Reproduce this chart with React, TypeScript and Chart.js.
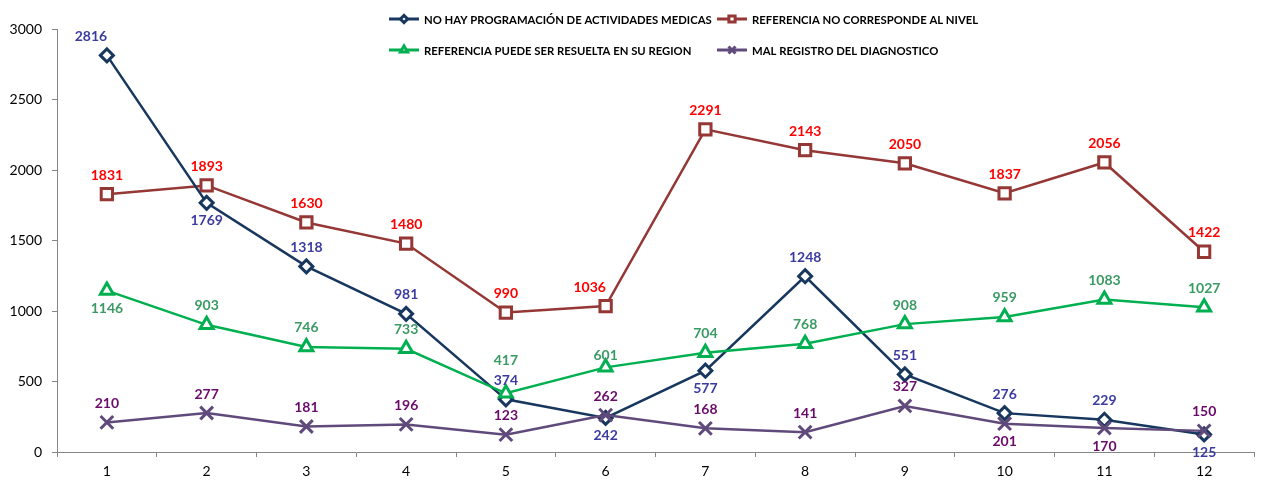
import React, { useEffect, useRef } from "react";
import { Chart, registerables } from "chart.js";
import { drawPoint } from "chart.js/helpers";
Chart.register(...registerables);

const categories = ["1", "2", "3", "4", "5", "6", "7", "8", "9", "10", "11", "12"];
const noProgramacion = [2816, 1769, 1318, 981, 374, 242, 577, 1248, 551, 276, 229, 125];
const noCorresponde = [1831, 1893, 1630, 1480, 990, 1036, 2291, 2143, 2050, 1837, 2056, 1422];
const resueltaRegion = [1146, 903, 746, 733, 417, 601, 704, 768, 908, 959, 1083, 1027];
const malRegistro = [210, 277, 181, 196, 123, 262, 168, 141, 327, 201, 170, 150];
const seriesNames = [
  "NO HAY PROGRAMACIÓN DE ACTIVIDADES MEDICAS",
  "REFERENCIA NO CORRESPONDE AL NIVEL",
  "REFERENCIA PUEDE SER RESUELTA EN SU REGION",
  "MAL REGISTRO DEL DIAGNOSTICO",
];
const yMin = 0;
const yMax = 3000;
const yStep = 500;

// label placement: a = above, b = below, al = above shifted left, aa = far above, an = near above
const posProgramacion = ["al", "b", "a", "a", "a", "b", "b", "a", "a", "a", "a", "b"];
const posCorresponde = ["a", "a", "a", "a", "a", "al", "a", "a", "a", "a", "a", "a"];
const posResuelta = ["b", "a", "a", "a", "aa", "an", "a", "a", "a", "a", "a", "a"];
const posRegistro = ["a", "a", "a", "a", "a", "a", "a", "a", "a", "b", "b", "a"];

const lineColors = ["#17375E", "#953735", "#00B050", "#604A7B"];
const labelColors = ["#3B3BA0", "#FF0000", "#3A9A64", "#6A0A6A"];
const pointStyles = ["rectRot", "rect", "triangle", "crossRot"];
const pointRadii = [6.5, 8, 7.5, 9];
const drawOrder = [3, 4, 2, 1];
const positions = [posProgramacion, posCorresponde, posResuelta, posRegistro];

const FONT = "Lato, 'DejaVu Sans', sans-serif";

const labelPlugin = {
  id: "valueLabels",
  afterDatasetsDraw(chart: any) {
    const ctx = chart.ctx;
    ctx.save();
    ctx.font = `bold 14px ${FONT}`;
    ctx.textAlign = "center";
    ctx.textBaseline = "middle";
    chart.data.datasets.forEach((ds: any, di: number) => {
      const meta = chart.getDatasetMeta(di);
      meta.data.forEach((pt: any, i: number) => {
        const pos = positions[di][i];
        let dx = 0;
        let dy = -19;
        if (pos === "b") dy = 18;
        if (pos === "al") dx = -16;
        if (pos === "aa") dy = -33;
        if (pos === "an") dy = -12;
        ctx.fillStyle = labelColors[di];
        ctx.fillText(String(ds.data[i]), pt.x + dx, pt.y + dy);
      });
    });
    ctx.restore();
  },
};

const legendPlugin = {
  id: "customLegend",
  afterDraw(chart: any) {
    const ctx = chart.ctx;
    ctx.save();
    const cols = [389, 717];
    const rows = [19, 50];
    chart.data.datasets.forEach((ds: any, di: number) => {
      const x = cols[di % 2];
      const y = rows[Math.floor(di / 2)];
      ctx.strokeStyle = lineColors[di];
      ctx.lineWidth = 3;
      ctx.beginPath();
      ctx.moveTo(x, y);
      ctx.lineTo(x + 30, y);
      ctx.stroke();
      ctx.fillStyle = "#FFFFFF";
      drawPoint(ctx, {
        pointStyle: pointStyles[di],
        radius: pointRadii[di] * 0.55,
        borderWidth: 2,
        rotation: 0,
      } as any, x + 15, y);
      ctx.fillStyle = "#000000";
      ctx.font = `bold 11.3px ${FONT}`;
      ctx.textAlign = "left";
      ctx.textBaseline = "middle";
      ctx.fillText(seriesNames[di], x + 35, y + 1);
    });
    ctx.restore();
  },
};

export default function App() {
  const ref = useRef<HTMLCanvasElement | null>(null);
  useEffect(() => {
    if (!ref.current) return;
    const data = [noProgramacion, noCorresponde, resueltaRegion, malRegistro];
    const chart = new Chart(ref.current, {
      type: "line",
      data: {
        labels: categories,
        datasets: data.map((d, i) => ({
          label: seriesNames[i],
          data: d,
          order: drawOrder[i],
          borderColor: lineColors[i],
          backgroundColor: "#FFFFFF",
          borderWidth: 2.5,
          pointStyle: pointStyles[i] as any,
          pointRadius: pointRadii[i],
          pointBorderWidth: 3,
          pointBackgroundColor: "#FFFFFF",
          pointBorderColor: lineColors[i],
          tension: 0,
        })),
      },
      options: {
        animation: false,
        responsive: false,
        maintainAspectRatio: false,
        devicePixelRatio: 1,
        layout: { padding: { top: 29.5, left: 9, right: 2, bottom: 0 } },
        plugins: { legend: { display: false }, tooltip: { enabled: false } },
        scales: {
          x: {
            offset: true,
            grid: { offset: true, drawOnChartArea: false, drawTicks: true, tickLength: 5, color: "#868686" },
            border: { color: "#868686", width: 1 },
            ticks: { color: "#000000", font: { family: FONT, size: 14 }, padding: 6 },
            afterFit(scale: any) {
              scale.height = 30;
            },
          },
          y: {
            min: yMin,
            max: yMax,
            grid: { drawOnChartArea: false, drawTicks: true, tickLength: 5, color: "#868686" },
            border: { color: "#868686", width: 1 },
            ticks: {
              stepSize: yStep,
              color: "#000000",
              font: { family: FONT, size: 14 },
              padding: 10,
              callback: (v: any) => String(v),
            },
            afterFit(scale: any) {
              scale.width = 48;
            },
          },
        },
      },
      plugins: [labelPlugin, legendPlugin],
    });
    return () => chart.destroy();
  }, []);
  return (
    <div style={{ position: "absolute", left: 0, top: 0, width: 1262, height: 482, overflow: "hidden", background: "#FFFFFF" }}>
      <canvas ref={ref} width={1266} height={482} style={{ display: "block" }} />
    </div>
  );
}
